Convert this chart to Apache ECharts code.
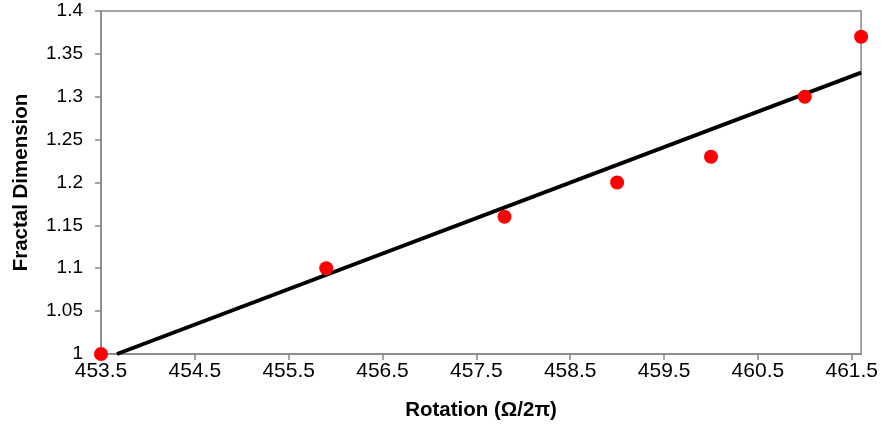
<!DOCTYPE html>
<html>
<head>
<meta charset="utf-8">
<script src="https://cdn.jsdelivr.net/npm/echarts@6/dist/echarts.min.js"></script>
<style>html,body{margin:0;padding:0;background:#fff}#c{width:881px;height:431px}</style>
</head>
<body>
<div id="c"></div>
<script>
const rotation = [453.5, 455.9, 457.8, 459.0, 460.0, 461.0, 461.6];
const fractalDim = [1.00, 1.10, 1.16, 1.20, 1.23, 1.30, 1.37];
const trendX = [453.67, 461.6];
const trendY = [1.0, 1.328];

const chart = echarts.init(document.getElementById('c'));
const axisCol = '#888888';
const font = 'Liberation Sans';
chart.setOption({
  animation: false,
  grid: {left: 101, right: 19, top: 11, bottom: 77, show: true, borderColor: axisCol, borderWidth: 1.5},
  xAxis: {
    type: 'value', min: 453.5, max: 461.6, interval: 1,
    name: 'Rotation (Ω/2π)', nameLocation: 'middle', nameGap: 46,
    nameTextStyle: {fontFamily: font, fontWeight: 'bold', fontSize: 20.5, color: '#000'},
    axisLine: {lineStyle: {color: axisCol, width: 1.5}},
    axisTick: {show: true, inside: false, length: 6, lineStyle: {color: axisCol, width: 1.5}},
    axisLabel: {fontFamily: font, fontSize: 21, color: '#000', margin: 7, showMaxLabel: false,
      formatter: v => v.toFixed(1)},
    splitLine: {show: false}
  },
  yAxis: {
    type: 'value', min: 1, max: 1.4, interval: 0.05,
    name: 'Fractal Dimension', nameLocation: 'middle', nameGap: 69,
    nameTextStyle: {fontFamily: font, fontWeight: 'bold', fontSize: 20.5, color: '#000'},
    axisLine: {show: true, lineStyle: {color: axisCol, width: 1.5}},
    axisTick: {show: true, inside: false, length: 6, lineStyle: {color: axisCol, width: 1.5}},
    axisLabel: {fontFamily: font, fontSize: 19, color: '#000', margin: 18,
      formatter: v => String(parseFloat(v.toFixed(2)))},
    splitLine: {show: false}
  },
  series: [
    {type: 'line', data: trendX.map((x, i) => [x, trendY[i]]), showSymbol: false, symbol: 'none',
      lineStyle: {color: '#000', width: 4}, clip: true, z: 2},
    {type: 'scatter', data: rotation.map((x, i) => [x, fractalDim[i]]), symbol: 'circle', symbolSize: 14,
      itemStyle: {color: '#ff0000', opacity: 1}, clip: false, z: 3}
  ]
});
</script>
</body>
</html>
